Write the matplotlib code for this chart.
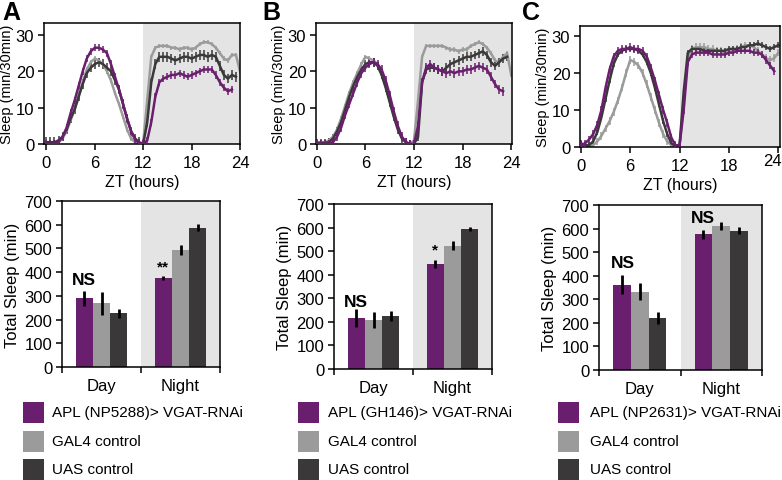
import numpy as np
import matplotlib
matplotlib.use("Agg")
import matplotlib.pyplot as plt
import matplotlib.transforms as mt
from matplotlib.patches import Rectangle

plt.rcParams['font.family'] = ['Liberation Sans', 'DejaVu Sans']

W, H = 782, 481
nan = np.nan

# ---------------- data ----------------
zt = np.arange(49) * 0.5  # ZT hours, 30-min bins

A_apl = [0, 0, 0, 0.5, 2, 4.5, 8.5, 12, 16, 20, 23.5, 25.5, 26.5, 26.5, 26, 25, 22, 18.5, 15, 11, 7, 3.5, 1.2, 0.3, 0,
         1, 6, 13, 17, 18, 18.5, 19, 19, 19.5, 19, 18.5, 19, 19.5, 20, 20.5, 20.5, 20.5, 19, 17, 15.5, 14.5, 15, nan, nan]
A_gal = [0, 0, 0, 0.5, 1.5, 3.5, 6.5, 9.5, 13.5, 17, 20.5, 22.5, 23.5, 23, 22, 20, 17.5, 14, 11, 7.5, 4, 1.5, 0.5, 0, 0.5,
         12, 24, 26.5, 27, 27, 27, 26.5, 26.5, 26, 26.5, 26.5, 26, 26.5, 27.5, 28, 28, 27.5, 26.5, 25, 23.5, 23, 24.5, 24.5, 20]
A_uas = [0.5, 0.5, 0.5, 1, 2, 4, 7, 9.5, 13, 16.5, 19.5, 21, 22, 22.5, 22, 21, 20, 17.5, 15, 11, 7, 3.5, 1.5, 0.5, 0,
         6, 17, 22, 24, 24, 24, 23.5, 23, 23.5, 24, 24, 23.5, 24, 24.5, 24.5, 24, 24.5, 24, 21.5, 19, 18, 19, 18.5, nan]

B_apl = [0, 0, 0, 0, 0.5, 2, 4.5, 8, 11, 14, 17, 19.5, 21, 22, 22.5, 22, 20.5, 17.5, 13.5, 9, 5, 2, 0.5, 0, 0,
         5, 17, 21, 22, 21, 20.5, 20, 19.5, 20, 19.5, 20, 20, 20.5, 20.5, 21, 21.5, 21, 20.5, 18.5, 16.5, 15, 14.5, nan, nan]
B_gal = [0.5, 0.5, 0.5, 1, 2, 4, 7, 10.5, 14, 17, 19.5, 22, 24, 23.5, 23, 22, 19.5, 16, 12, 8, 4.5, 2, 0.5, 0, 1,
         12, 24, 27, 27, 27, 27, 27, 26.5, 26, 26, 25.5, 26, 26, 27, 27.5, 28, 27.5, 26.5, 25, 23, 22.5, 24, 25, 19]
B_uas = [0.3, 0.3, 0.3, 0.5, 1.5, 3.5, 6, 9.5, 13, 16, 18.5, 20.5, 22, 22.5, 22.5, 21.5, 19, 15.5, 11.5, 7.5, 4, 1.5, 0.5, 0, 0,
         2, 17, 20.5, 21, 21, 20.5, 20, 21, 22, 22.5, 23, 23.5, 24, 24, 24.5, 25, 25.5, 24.5, 22.5, 21.5, 22.5, 23.5, 24, nan]

C_apl = [0.5, 1, 2, 3.5, 6, 10, 16, 21, 24.5, 26, 26.5, 26.5, 27, 26.5, 26.5, 26, 24.5, 21.5, 18, 14, 10, 6.5, 2.5, 0.5, 0.5,
         10, 23, 25, 25.5, 25.5, 25.5, 25.5, 25, 25, 25, 25, 25.5, 25.5, 26, 26, 26, 26, 25.5, 25.5, 25, 23.5, 22, 20.5, nan]
C_gal = [0.5, 0, 0, 0.5, 1.5, 3, 5, 7, 9.5, 12.5, 16, 20, 23.5, 23, 22, 20, 17, 13.5, 10, 6.5, 3.5, 1.5, 0.5, 0, 0.5,
         12, 24.5, 26.5, 27, 27, 27, 26.5, 26.5, 26, 26, 25.5, 25.5, 26, 26.5, 27, 27.5, 27.5, 27, 26, 25, 24, 23.5, 24, 25.5]
C_uas = [1, 0.5, 0.5, 1.5, 4, 8, 13, 18, 22.5, 25, 26, 26.5, 26.5, 26.5, 26, 25, 23, 20, 16, 11.5, 7, 3.5, 1, 0.3, 0.5,
         15, 25.5, 26.5, 26.5, 26.5, 26, 26, 26, 26, 26, 26, 26.5, 26.5, 26.5, 27, 27, 27.5, 27.5, 28, 27.5, 27, 26.5, 27, 27.5]

# SEM of the 30-min profiles (approximate)
A_sem = [1.0, 0.6, 1.3]
B_sem = [1.2, 0.6, 1.2]
C_sem = [1.0, 1.0, 0.8]

periods = ['Day', 'Night']
A_tot = [[290, 375], [268, 494], [226, 588]]
A_err = [[32, 10], [50, 20], [18, 16]]
B_tot = [[216, 445], [208, 523], [224, 593]]
B_err = [[37, 17], [35, 18], [21, 9]]
C_tot = [[362, 576], [332, 613], [222, 590]]
C_err = [[40, 19], [37, 17], [25, 15]]

labels_A = ['APL (NP5288)> VGAT-RNAi', 'GAL4 control', 'UAS control']
labels_B = ['APL (GH146)> VGAT-RNAi', 'GAL4 control', 'UAS control']
labels_C = ['APL (NP2631)> VGAT-RNAi', 'GAL4 control', 'UAS control']

colors = ['#6a1f6e', '#9b9b9b', '#3a3838']
shade = '#e4e4e4'

fig = plt.figure(figsize=(W / 100, H / 100), dpi=100)


def px_axes(l, t, r, b):
    return fig.add_axes([l / W, 1 - b / H, (r - l) / W, (b - t) / H])


def style(ax, ls):
    for s in ax.spines.values():
        s.set_linewidth(1.1)
        s.set_color('black')
    ax.tick_params(direction='out', length=4, width=1.1, labelsize=ls, pad=3)


def line_panel(box, series, sems, ylim_top, xlim, shift_last=False):
    ax = px_axes(*box)
    ax.axvspan(12, 30, color=shade, lw=0, zorder=0)
    order = [1, 2, 0]
    for i in order:
        ax.errorbar(zt, series[i], yerr=sems[i], color=colors[i], lw=1.8,
                    elinewidth=1.1, capsize=0, zorder=2 + (i == 0))
    ax.set_xlim(*xlim)
    ax.set_ylim(0, ylim_top)
    ax.set_xticks([0, 6, 12, 18, 24])
    ax.set_yticks([0, 10, 20, 30])
    style(ax, 12)
    ax.tick_params(axis='x', pad=4)
    ax.set_ylabel('Sleep (min/30min)', fontsize=10.5, labelpad=1)
    ax.set_xlabel('ZT (hours)', fontsize=11.5, labelpad=3)
    if shift_last:
        lab = ax.get_xticklabels()[-1]
        lab.set_transform(lab.get_transform() +
                          mt.ScaledTranslation(-6 / 100, 5 / 100, fig.dpi_scale_trans))
    return ax


def bar_panel(box, tots, errs, legend_px, labels, annots):
    ax = px_axes(*box)
    ax.axvspan(1, 2, color=shade, lw=0, zorder=0)
    centers = np.array([0.5, 1.5])
    offs = [-0.22, 0, 0.22]
    for i in range(3):
        ax.bar(centers + offs[i], tots[i], width=0.215, color=colors[i], zorder=2)
        ax.errorbar(centers + offs[i], tots[i], yerr=errs[i], fmt='none',
                    ecolor='black', elinewidth=2, capsize=0, zorder=3)
    ax.set_xlim(0, 2)
    ax.set_ylim(0, 700)
    ax.set_yticks(range(0, 701, 100))
    ax.set_xticks([0, 1, 2])
    ax.set_xticklabels([])
    ax.set_xticks(centers, minor=True)
    ax.set_xticklabels(periods, minor=True)
    style(ax, 12)
    ax.tick_params(axis='x', which='minor', length=0, pad=8, labelsize=12)
    ax.set_ylabel('Total Sleep (min)', fontsize=12, labelpad=3)
    for (x, y, s, fs) in annots:
        ax.text(x, y, s, ha='center', va='center', fontsize=fs, fontweight='bold')
    # legend
    px, tx = legend_px
    for i, (top, lab) in enumerate(zip([403, 432, 460], labels)):
        fig.add_artist(Rectangle((px / W, 1 - (top + 21) / H), 21 / W, 21 / H,
                                 transform=fig.transFigure, color=colors[i], lw=0))
        fig.text(tx / W, 1 - (top + 10.5) / H, lab, fontsize=11, va='center', ha='left')
    return ax


line_panel((44, 24, 240, 145), [A_apl, A_gal, A_uas], A_sem, 33.3, (-0.3, 24))
line_panel((316, 24, 512, 145), [B_apl, B_gal, B_uas], B_sem, 33.3, (-0.1, 24.1))
line_panel((580, 27, 780, 148), [C_apl, C_gal, C_uas], C_sem, 32.7, (-0.1, 24.2), shift_last=True)

bar_panel((62, 202, 220, 368), A_tot, A_err, (23, 52), labels_A,
          [(0.28, 367, 'NS', 12.5), (1.28, 426, '**', 11)])
bar_panel((334, 205, 492, 370), B_tot, B_err, (298, 328), labels_B,
          [(0.28, 288, 'NS', 12.5), (1.28, 505, '*', 11)])
bar_panel((599, 206, 762, 371), C_tot, C_err, (558, 590), labels_C,
          [(0.29, 454, 'NS', 12.5), (1.27, 649, 'NS', 12.5)])

for x, lab in [(2, 'A'), (262, 'B'), (522, 'C')]:
    fig.text(x / W, 1 - 1 / H, lab, fontsize=18, fontweight='bold', va='top', ha='left')

fig.savefig('out.png', dpi=100)
